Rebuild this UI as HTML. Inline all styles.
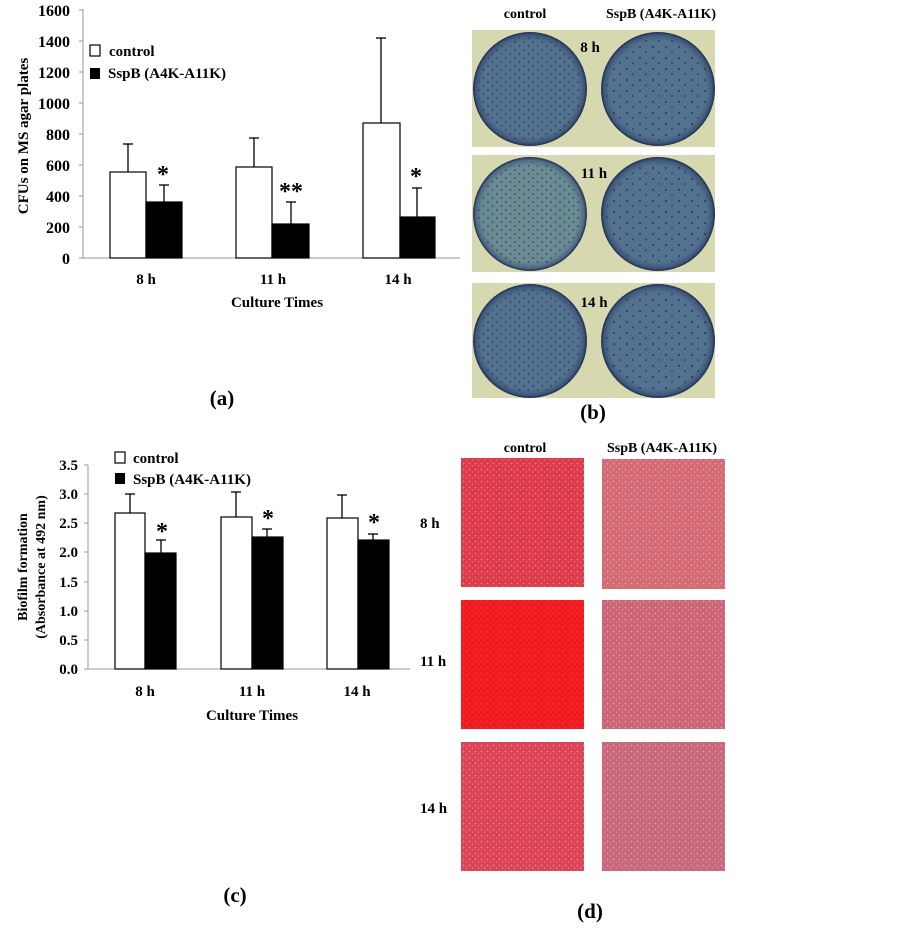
<!DOCTYPE html>
<html><head><meta charset="utf-8"><style>
html,body{margin:0;padding:0;background:#fff}
svg{display:block}
text{font-family:"Liberation Serif",serif;font-weight:bold;fill:#000}
</style></head><body>
<svg width="903" height="931" viewBox="0 0 903 931" xmlns="http://www.w3.org/2000/svg">
<defs>
<pattern id="dots" width="9" height="8" patternUnits="userSpaceOnUse">
<circle cx="2" cy="2" r="0.8" fill="#1e2e48"/><circle cx="6.5" cy="6" r="0.7" fill="#1e2e48"/></pattern>
<pattern id="dots2" width="13" height="11" patternUnits="userSpaceOnUse">
<circle cx="3" cy="3" r="0.9" fill="#1a2840"/><circle cx="9" cy="8" r="0.8" fill="#1a2840"/></pattern>
<radialGradient id="plate" cx="50%" cy="50%" r="50%">
<stop offset="0.85" stop-color="#53728f"/><stop offset="0.95" stop-color="#40587a"/><stop offset="1" stop-color="#1f2c4e"/></radialGradient>
<radialGradient id="plateL" cx="50%" cy="50%" r="50%">
<stop offset="0.85" stop-color="#6a8a94"/><stop offset="0.95" stop-color="#4e6a82"/><stop offset="1" stop-color="#1f2c4e"/></radialGradient>
<pattern id="speck" width="6" height="6" patternUnits="userSpaceOnUse">
<circle cx="1.5" cy="1.5" r="0.9" fill="#fff" opacity="0.35"/><circle cx="4.5" cy="4" r="0.7" fill="#fff" opacity="0.3"/></pattern>
</defs>

<!-- Panel (a) -->
<g stroke="#999" stroke-width="1">
<line x1="83" y1="9" x2="83" y2="258"/><line x1="83" y1="258" x2="460" y2="258"/>
<line x1="79" y1="10" x2="83" y2="10"/><line x1="79" y1="41" x2="83" y2="41"/><line x1="79" y1="72" x2="83" y2="72"/><line x1="79" y1="103" x2="83" y2="103"/><line x1="79" y1="134" x2="83" y2="134"/><line x1="79" y1="165" x2="83" y2="165"/><line x1="79" y1="196" x2="83" y2="196"/><line x1="79" y1="227" x2="83" y2="227"/><line x1="79" y1="258" x2="83" y2="258"/>
</g>
<g font-size="16" text-anchor="end">
<text x="70" y="16">1600</text><text x="70" y="47">1400</text><text x="70" y="78">1200</text><text x="70" y="109">1000</text><text x="70" y="140">800</text><text x="70" y="171">600</text><text x="70" y="202">400</text><text x="70" y="233">200</text><text x="70" y="264">0</text>
</g>
<g stroke="#000" stroke-width="1.3">
<line x1="128" y1="172" x2="128" y2="144"/><line x1="123" y1="144" x2="133" y2="144"/>
<line x1="164" y1="202" x2="164" y2="185"/><line x1="159" y1="185" x2="169" y2="185"/>
<line x1="254" y1="167" x2="254" y2="138"/><line x1="249" y1="138" x2="259" y2="138"/>
<line x1="291" y1="224" x2="291" y2="202"/><line x1="286" y1="202" x2="296" y2="202"/>
<line x1="381" y1="123" x2="381" y2="38"/><line x1="376" y1="38" x2="386" y2="38"/>
<line x1="417" y1="217" x2="417" y2="188"/><line x1="412" y1="188" x2="422" y2="188"/>
</g>
<g stroke="#000" stroke-width="1.2">
<rect x="110" y="172" width="36" height="86" fill="#fff"/><rect x="146" y="202" width="36" height="56" fill="#000"/>
<rect x="236" y="167" width="36" height="91" fill="#fff"/><rect x="272" y="224" width="37" height="34" fill="#000"/>
<rect x="363" y="123" width="37" height="135" fill="#fff"/><rect x="400" y="217" width="35" height="41" fill="#000"/>
</g>
<g font-size="24" font-weight="normal" text-anchor="middle"><text x="163" y="182">*</text><text x="291" y="199">**</text><text x="416" y="184">*</text></g>
<rect x="90" y="45" width="10" height="11" fill="#fff" stroke="#000" stroke-width="1.2"/>
<rect x="90" y="68" width="10" height="11" fill="#000"/>
<text x="109" y="56" font-size="15">control</text>
<text x="108" y="78" font-size="15">SspB (A4K-A11K)</text>
<g font-size="15" text-anchor="middle"><text x="146" y="284">8 h</text><text x="273" y="284">11 h</text><text x="398" y="284">14 h</text>
<text x="277" y="307">Culture Times</text></g>
<text x="28" y="136" font-size="15" text-anchor="middle" transform="rotate(-90 28 136)">CFUs  on MS agar plates</text>
<text x="222" y="405" font-size="21" text-anchor="middle">(a)</text>

<!-- Panel (b) -->
<rect x="472" y="30" width="243" height="117" fill="#d6d9b0"/>
<rect x="472" y="155" width="243" height="117" fill="#d6d9b0"/>
<rect x="472" y="283" width="243" height="115" fill="#d6d9b0"/>
<g>
<circle cx="530" cy="89" r="57" fill="url(#plate)"/><circle cx="530" cy="89" r="52" fill="url(#dots)"/>
<circle cx="658" cy="89" r="57" fill="url(#plate)"/><circle cx="658" cy="89" r="52" fill="url(#dots2)"/>
<circle cx="530" cy="214" r="57" fill="url(#plateL)"/><circle cx="530" cy="214" r="52" fill="url(#dots)"/>
<circle cx="658" cy="214" r="57" fill="url(#plate)"/><circle cx="658" cy="214" r="52" fill="url(#dots2)"/>
<circle cx="530" cy="341" r="57" fill="url(#plate)"/><circle cx="530" cy="341" r="52" fill="url(#dots)"/>
<circle cx="658" cy="341" r="57" fill="url(#plate)"/><circle cx="658" cy="341" r="52" fill="url(#dots2)"/>
</g>
<text x="525" y="18" font-size="14" text-anchor="middle">control</text>
<text x="661" y="18" font-size="14" text-anchor="middle">SspB (A4K-A11K)</text>
<g font-size="15" text-anchor="middle"><text x="590" y="52">8 h</text><text x="594" y="178">11 h</text><text x="594" y="307">14 h</text></g>
<text x="593" y="419" font-size="21" text-anchor="middle">(b)</text>

<!-- Panel (c) -->
<g stroke="#999" stroke-width="1">
<line x1="88" y1="465" x2="88" y2="669"/><line x1="88" y1="669" x2="410" y2="669"/>
<line x1="84" y1="465" x2="88" y2="465"/><line x1="84" y1="494" x2="88" y2="494"/><line x1="84" y1="523" x2="88" y2="523"/><line x1="84" y1="552" x2="88" y2="552"/><line x1="84" y1="582" x2="88" y2="582"/><line x1="84" y1="611" x2="88" y2="611"/><line x1="84" y1="640" x2="88" y2="640"/><line x1="84" y1="669" x2="88" y2="669"/>
</g>
<g font-size="15" text-anchor="end">
<text x="78" y="470">3.5</text><text x="78" y="499">3.0</text><text x="78" y="528">2.5</text><text x="78" y="557">2.0</text><text x="78" y="587">1.5</text><text x="78" y="616">1.0</text><text x="78" y="645">0.5</text><text x="78" y="674">0.0</text>
</g>
<g stroke="#000" stroke-width="1.3">
<line x1="130" y1="513" x2="130" y2="494"/><line x1="125" y1="494" x2="135" y2="494"/>
<line x1="161" y1="553" x2="161" y2="540"/><line x1="156" y1="540" x2="166" y2="540"/>
<line x1="236" y1="517" x2="236" y2="492"/><line x1="231" y1="492" x2="241" y2="492"/>
<line x1="267" y1="537" x2="267" y2="529"/><line x1="262" y1="529" x2="272" y2="529"/>
<line x1="342" y1="518" x2="342" y2="495"/><line x1="337" y1="495" x2="347" y2="495"/>
<line x1="373" y1="540" x2="373" y2="534"/><line x1="368" y1="534" x2="378" y2="534"/>
</g>
<g stroke="#000" stroke-width="1.2">
<rect x="115" y="513" width="30" height="156" fill="#fff"/><rect x="145" y="553" width="31" height="116" fill="#000"/>
<rect x="221" y="517" width="31" height="152" fill="#fff"/><rect x="252" y="537" width="31" height="132" fill="#000"/>
<rect x="327" y="518" width="31" height="151" fill="#fff"/><rect x="358" y="540" width="31" height="129" fill="#000"/>
</g>
<g font-size="24" font-weight="normal" text-anchor="middle"><text x="162" y="539">*</text><text x="268" y="526">*</text><text x="374" y="530">*</text></g>
<rect x="115" y="452" width="10" height="11" fill="#fff" stroke="#000" stroke-width="1.2"/>
<rect x="115" y="473" width="10" height="11" fill="#000"/>
<text x="133" y="463" font-size="15">control</text>
<text x="133" y="484" font-size="15">SspB (A4K-A11K)</text>
<g font-size="15" text-anchor="middle"><text x="145" y="696">8 h</text><text x="252" y="696">11 h</text><text x="357" y="696">14 h</text>
<text x="252" y="720">Culture Times</text></g>
<text x="27" y="567" font-size="14" text-anchor="middle" transform="rotate(-90 27 567)">Biofilm formation</text>
<text x="45" y="567" font-size="14" text-anchor="middle" transform="rotate(-90 45 567)">(Absorbance at 492 nm)</text>
<text x="235" y="902" font-size="21" text-anchor="middle">(c)</text>

<!-- Panel (d) -->
<rect x="461" y="458" width="123" height="129" fill="#dd3a4a"/><rect x="461" y="458" width="123" height="129" fill="url(#speck)"/>
<rect x="602" y="459" width="123" height="130" fill="#d46a74"/><rect x="602" y="459" width="123" height="130" fill="url(#speck)"/>
<rect x="461" y="600" width="123" height="129" fill="#f01a1e"/><rect x="461" y="600" width="123" height="129" fill="url(#speck)" opacity="0.4"/>
<rect x="602" y="600" width="123" height="129" fill="#cc6476"/><rect x="602" y="600" width="123" height="129" fill="url(#speck)"/>
<rect x="461" y="742" width="123" height="129" fill="#dc4356"/><rect x="461" y="742" width="123" height="129" fill="url(#speck)"/>
<rect x="602" y="742" width="123" height="129" fill="#c9687a"/><rect x="602" y="742" width="123" height="129" fill="url(#speck)"/>
<text x="525" y="452" font-size="14" text-anchor="middle">control</text>
<text x="662" y="452" font-size="14" text-anchor="middle">SspB (A4K-A11K)</text>
<g font-size="15"><text x="420" y="528">8 h</text><text x="420" y="666">11 h</text><text x="420" y="813">14 h</text></g>
<text x="590" y="918" font-size="21" text-anchor="middle">(d)</text>
</svg>
</body></html>
